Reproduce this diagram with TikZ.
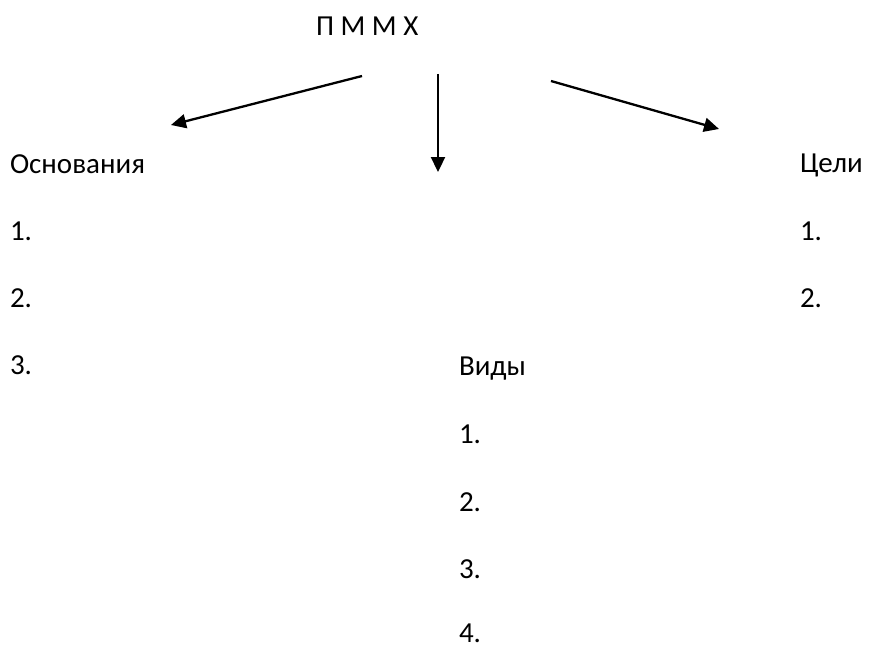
\documentclass[tikz,border=0pt]{standalone}
\usepackage{fontspec}
\setmainfont{Carlito}
\usetikzlibrary{arrows.meta}
\begin{document}
\begin{tikzpicture}[x=1pt,y=-1pt,
  lbl/.style={anchor=base west,inner sep=0pt,outer sep=0pt,font=\fontsize{29}{34}\selectfont},
  conn/.style={line width=2.3pt,-{Triangle[length=15pt,width=14pt]}}]
\useasboundingbox (0,0) rectangle (869,650);
\node[lbl] (title) at (316,36) {П М М Х};
\node[lbl] (osn) at (10,173) {Основания};
\node[lbl] (o1) at (10,240) {1.};
\node[lbl] (o2) at (10,307) {2.};
\node[lbl] (o3) at (10,374) {3.};
\node[lbl] (celi) at (800,172) {Цели};
\node[lbl] (c1) at (800,240) {1.};
\node[lbl] (c2) at (800,307) {2.};
\node[lbl] (vid) at (459,375) {Виды};
\node[lbl] (v1) at (459,443) {1.};
\node[lbl] (v2) at (459,511) {2.};
\node[lbl] (v3) at (459,578) {3.};
\node[lbl] (v4) at (459,642) {4.};
\coordinate (s1) at (362,76);
\coordinate (e1) at (171,125);
\coordinate (s2) at (438,74);
\coordinate (e2) at (438,172);
\coordinate (s3) at (551,81);
\coordinate (e3) at (719,129);
\draw[conn] (s1) -- (e1);
\draw[conn] (s2) -- (e2);
\draw[conn] (s3) -- (e3);
\end{tikzpicture}
\end{document}
